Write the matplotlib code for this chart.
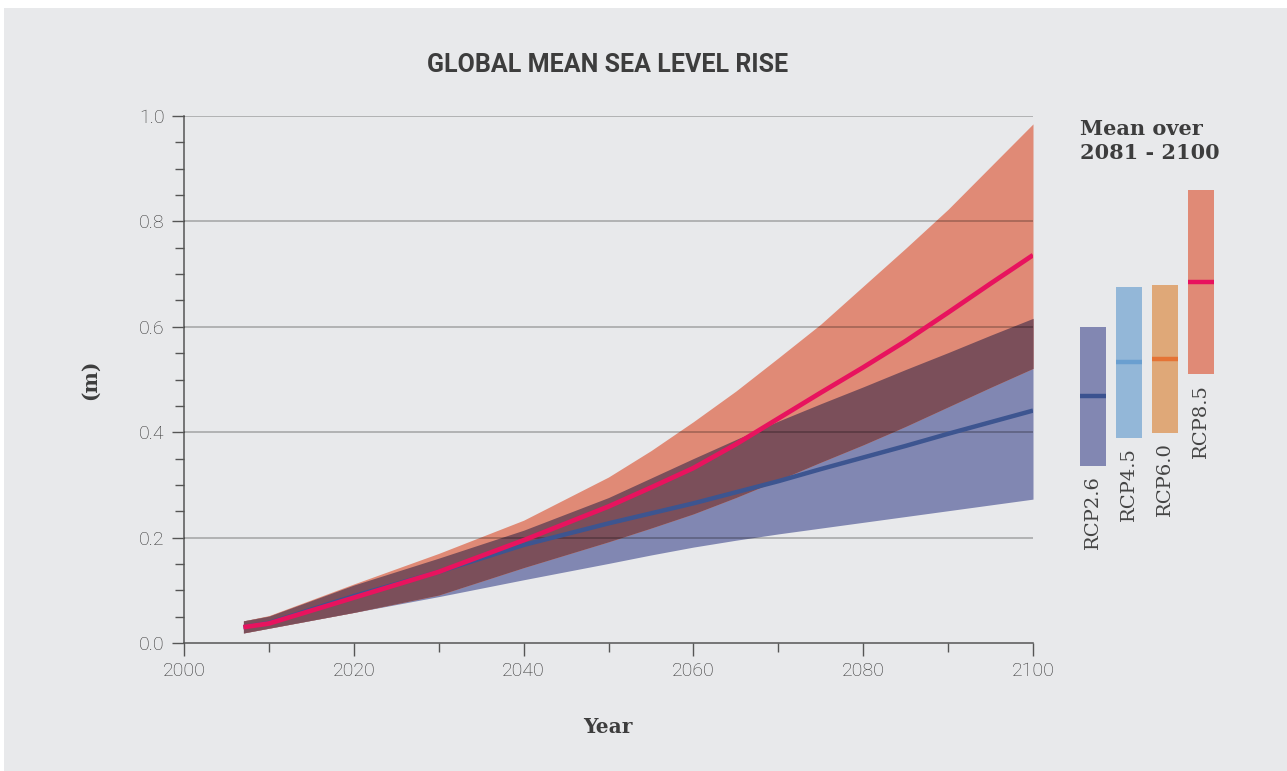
import numpy as np
import matplotlib
matplotlib.use("Agg")
import matplotlib.pyplot as plt
from matplotlib.patches import Rectangle
from matplotlib.ticker import MultipleLocator

# -------------------------------
# DATA
# -------------------------------
YEARS = [2007, 2010, 2020, 2030, 2040, 2050, 2055, 2060, 2065, 2070,
         2075, 2080, 2085, 2090, 2095, 2100]

rcp26_mean = [0.030, 0.038, 0.089, 0.135, 0.186, 0.227, 0.246, 0.265, 0.286, 0.307,
              0.330, 0.352, 0.374, 0.397, 0.419, 0.441]
rcp26_lo = [0.019, 0.028, 0.058, 0.088, 0.120, 0.151, 0.167, 0.182, 0.195, 0.207,
            0.218, 0.229, 0.240, 0.251, 0.262, 0.273]
rcp26_hi = [0.042, 0.051, 0.110, 0.161, 0.214, 0.276, 0.313, 0.350, 0.386, 0.421,
            0.454, 0.486, 0.519, 0.551, 0.584, 0.616]

rcp85_mean = [0.030, 0.037, 0.086, 0.135, 0.195, 0.259, 0.295, 0.332, 0.377, 0.426,
              0.475, 0.523, 0.573, 0.627, 0.682, 0.736]
rcp85_lo = [0.019, 0.028, 0.058, 0.091, 0.143, 0.192, 0.218, 0.245, 0.276, 0.309,
            0.343, 0.376, 0.411, 0.448, 0.485, 0.521]
rcp85_hi = [0.042, 0.052, 0.112, 0.170, 0.233, 0.315, 0.365, 0.420, 0.478, 0.541,
            0.605, 0.677, 0.749, 0.823, 0.904, 0.985]

# mean over 2081-2100 per scenario
SCENARIOS = ["RCP2.6", "RCP4.5", "RCP6.0", "RCP8.5"]
bar_lo = [0.336, 0.389, 0.399, 0.510]
bar_hi = [0.600, 0.676, 0.679, 0.860]
bar_mean = [0.469, 0.533, 0.539, 0.685]

# -------------------------------
# STYLE
# -------------------------------
BG = "#e8e9eb"
TXT = "#3d3d3d"
BLUE_FILL = "#8187b2"
RED_FILL = "#e08a76"
OVERLAP = "#7b4f5a"
BLUE_LINE = "#3d5590"
RED_LINE = "#e8135e"
BAR_FILL = ["#8287b2", "#93b7d8", "#dfa878", "#e08a76"]
BAR_MEAN = ["#3b5290", "#6a9fd0", "#e57335", "#e8125e"]

SANS = ["Roboto", "DejaVu Sans"]
SERIF = ["DejaVu Serif"]

W, H = 1287, 771
fig = plt.figure(figsize=(W / 100, H / 100), dpi=100, facecolor="white")
fig.patches.append(Rectangle((4 / W, 0), 1, (H - 8) / H, transform=fig.transFigure,
                             facecolor=BG, edgecolor="none", zorder=-10))

# -------------------------------
# MAIN AXES
# -------------------------------
ax = fig.add_axes([184 / W, (H - 643) / H, (1033 - 184) / W, (643 - 116) / H])
ax.set_facecolor("none")

yrs = np.array(YEARS)
b_lo, b_hi = np.array(rcp26_lo), np.array(rcp26_hi)
r_lo, r_hi = np.array(rcp85_lo), np.array(rcp85_hi)

ax.fill_between(yrs, b_lo, b_hi, color=BLUE_FILL, lw=0, zorder=1)
ax.fill_between(yrs, r_lo, r_hi, color=RED_FILL, lw=0, zorder=1)
# overlap of both ranges
ax.fill_between(yrs, np.maximum(b_lo, r_lo), np.minimum(b_hi, r_hi),
                color=OVERLAP, lw=0, zorder=2)

for v in [0.2, 0.4, 0.6, 0.8, 1.0]:
    ax.axhline(v, color="black", alpha=0.28, lw=1.2, zorder=3)

ax.plot(yrs, rcp26_mean, color=BLUE_LINE, lw=3.2, zorder=4, solid_capstyle="butt")
ax.plot(yrs, rcp85_mean, color=RED_LINE, lw=3.4, zorder=5, solid_capstyle="butt")

ax.set_xlim(2000, 2100)
ax.set_ylim(0, 1.0)
ax.xaxis.set_major_locator(MultipleLocator(20))
ax.xaxis.set_minor_locator(MultipleLocator(10))
ax.yaxis.set_minor_locator(MultipleLocator(0.05))
ax.set_yticks([0.0, 0.2, 0.4, 0.6, 0.8, 1.0])
ax.set_yticklabels(["0.0", "0.2", "0.4", "0.6", "0.8", "1.0"])

for s in ["top", "right"]:
    ax.spines[s].set_visible(False)
for s in ["left", "bottom"]:
    ax.spines[s].set_color("#555555")
    ax.spines[s].set_linewidth(1.1)

ax.tick_params(which="major", length=9, width=1.0, color="#555555", pad=5,
               labelsize=14, labelcolor="#333333")
ax.tick_params(which="minor", length=6.5, width=1.0, color="#555555")
for lab in ax.get_xticklabels() + ax.get_yticklabels():
    lab.set_family(SANS)
    lab.set_fontweight("light")

# -------------------------------
# BARS: MEAN OVER 2081-2100
# -------------------------------
ax2 = fig.add_axes([1075 / W, (H - 643) / H, 144 / W, (643 - 116) / H])
ax2.set_facecolor("none")
ax2.set_xlim(-0.5, 3.5)
ax2.set_ylim(0, 1.0)
ax2.axis("off")

xs = np.arange(len(SCENARIOS))
bw = 0.72
ax2.bar(xs, np.array(bar_hi) - np.array(bar_lo), bottom=bar_lo, width=bw,
        color=BAR_FILL, lw=0)
for i in xs:
    ax2.hlines(bar_mean[i], i - bw / 2, i + bw / 2, color=BAR_MEAN[i], lw=3.2)
    ax2.text(i, bar_lo[i] - 0.018, SCENARIOS[i], rotation=90, ha="center", va="top",
             fontsize=14, color="#444444", family=SERIF)

# -------------------------------
# TEXTS
# -------------------------------
fig.text(608 / W, 1 - 65 / H, "GLOBAL MEAN SEA LEVEL RISE", ha="center", va="center",
         fontsize=18, fontweight="bold", color=TXT, family=SANS)
fig.text(1080 / W, 1 - 141 / H, "Mean over\n2081 - 2100", ha="left", va="center",
         fontsize=15, fontweight="bold", color=TXT, family=SERIF, linespacing=1.2)
fig.text(90 / W, 1 - 380 / H, "(m)", rotation=90, ha="center", va="center",
         fontsize=14.5, fontweight="bold", color=TXT, family=SERIF)
fig.text(608 / W, 1 - 727 / H, "Year", ha="center", va="center",
         fontsize=14.5, fontweight="bold", color=TXT, family=SERIF)

fig.savefig("out.png", dpi=100, facecolor=fig.get_facecolor())
